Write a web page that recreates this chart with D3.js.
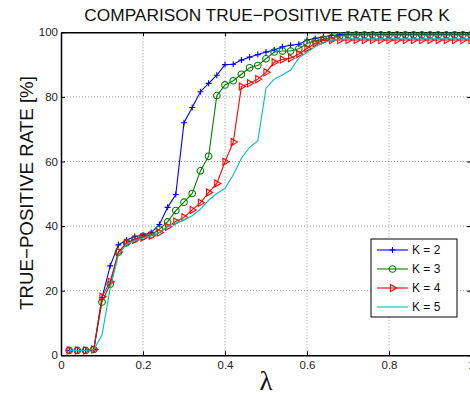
<!DOCTYPE html>
<html lang="en">
<head>
<meta charset="UTF-8" />
<title>Comparison true-positive rate for K</title>
<script src="https://d3js.org/d3.v7.min.js"></script>
<style>
    body { margin: 0; background: #fff; }
    svg { display: block; font-family: "Liberation Sans", Arial, sans-serif; }
    .tick text { font-size: 11.5px; fill: #222; }
</style>
</head>
<body>
<svg id="chart" width="470" height="396"></svg>
<script>
    // lambda values 0.02 .. 1.00
    const lambdas = d3.range(1, 51).map(i => +(i * 0.02).toFixed(2));

    const seriesNames = ["K = 2", "K = 3", "K = 4", "K = 5"];
    const seriesColors = ["#0000ff", "#008000", "#ff0000", "#00bfbf"];
    const seriesMarkers = ["plus", "circle", "triangle", "none"];

    const tprK2 = [1.5, 1.5, 1.5, 1.8, 17.8, 27.7, 34.2, 35.7, 36.8, 37.2,
        38.0, 40.5, 45.8, 49.8, 72.0, 76.7, 81.6, 84.2, 86.7, 90.0,
        90.1, 91.4, 92.3, 93.1, 93.9, 94.5, 95.5, 96.0, 96.3, 97.6,
        98.1, 98.6, 99.0, 99.2, 99.3, 99.3, 99.3, 99.3, 99.3, 99.3,
        99.3, 99.3, 99.3, 99.3, 99.3, 99.3, 99.3, 99.3, 99.3, 99.3];
    const tprK3 = [1.5, 1.5, 1.5, 1.8, 16.5, 22.0, 31.9, 34.8, 36.0, 36.8,
        37.3, 39.0, 41.3, 44.8, 47.4, 50.1, 57.1, 61.6, 80.4, 83.7,
        85.0, 87.0, 89.0, 89.7, 91.8, 93.9, 94.2, 94.2, 94.9, 96.5,
        97.4, 97.8, 98.3, 98.9, 99.2, 99.2, 99.2, 99.2, 99.2, 99.2,
        99.2, 99.2, 99.2, 99.2, 99.2, 99.2, 99.2, 99.2, 99.2, 99.2];
    const tprK4 = [1.5, 1.5, 1.5, 1.8, 18.1, 22.8, 32.0, 34.8, 35.8, 36.5,
        37.0, 38.0, 39.8, 41.4, 42.7, 45.0, 47.2, 50.4, 53.2, 59.9,
        66.0, 83.2, 84.2, 85.5, 87.6, 90.7, 91.6, 92.0, 93.3, 95.0,
        96.6, 97.5, 97.6, 97.6, 97.6, 97.6, 97.6, 97.6, 97.6, 97.6,
        97.6, 97.6, 97.6, 97.6, 97.6, 97.6, 97.6, 97.6, 97.6, 97.6];
    const tprK5 = [1.5, 1.5, 1.5, 1.8, 6.3, 20.7, 31.0, 34.5, 35.5, 36.3,
        37.0, 38.0, 40.0, 40.9, 41.9, 43.2, 45.2, 48.0, 50.1, 51.7,
        55.8, 61.0, 64.4, 66.4, 82.7, 85.5, 86.8, 88.3, 92.0, 93.8,
        95.5, 96.8, 97.5, 97.8, 98.0, 98.0, 98.0, 98.0, 98.0, 98.0,
        98.0, 98.0, 98.0, 98.0, 98.0, 98.0, 98.0, 98.0, 98.0, 98.0];
    const seriesValues = [tprK2, tprK3, tprK4, tprK5];

    const xTicks = [0, 0.2, 0.4, 0.6, 0.8, 1];
    const yTicks = [0, 20, 40, 60, 80, 100];

    const plotLeft = 61, plotRight = 471, plotTop = 32.3, plotBottom = 355.3;

    const svg = d3.select("#chart");
    const x = d3.scaleLinear().domain([0, 1]).range([plotLeft, plotRight]);
    const y = d3.scaleLinear().domain([0, 100]).range([plotBottom, plotTop]);

    // grid
    const grid = svg.append("g");
    grid.selectAll(".gx").data(xTicks.slice(1, -1)).join("line")
        .attr("x1", d => x(d)).attr("x2", d => x(d))
        .attr("y1", plotTop).attr("y2", plotBottom)
        .attr("stroke", "#999").attr("stroke-width", 1).attr("stroke-dasharray", "1,2");
    grid.selectAll(".gy").data(yTicks.slice(1, -1)).join("line")
        .attr("x1", plotLeft).attr("x2", plotRight)
        .attr("y1", d => y(d)).attr("y2", d => y(d))
        .attr("stroke", "#999").attr("stroke-width", 1).attr("stroke-dasharray", "1,2");

    // axes (MATLAB style, ticks inside, box on)
    svg.append("g").attr("transform", `translate(0,${plotBottom})`)
        .call(d3.axisBottom(x).tickValues(xTicks).tickFormat(d3.format("~g"))
            .tickSizeInner(-4).tickSizeOuter(0).tickPadding(6));
    svg.append("g").attr("transform", `translate(${plotLeft},0)`)
        .call(d3.axisLeft(y).tickValues(yTicks).tickSizeInner(-4).tickSizeOuter(0).tickPadding(3));
    svg.append("g").attr("transform", `translate(0,${plotTop})`)
        .call(d3.axisTop(x).tickValues(xTicks).tickFormat("").tickSizeInner(-4).tickSizeOuter(0));
    svg.append("g").attr("transform", `translate(${plotRight},0)`)
        .call(d3.axisRight(y).tickValues(yTicks).tickFormat("").tickSizeInner(-4).tickSizeOuter(0));
    svg.selectAll(".domain").attr("stroke", "#000").attr("stroke-width", 1.5);
    svg.selectAll(".tick line").attr("stroke", "#000");

    // series
    const line = d3.line().x((d, i) => x(lambdas[i])).y(d => y(d));
    const tri = d3.symbol().type(d3.symbolTriangle).size(22);

    function drawMarker(g, kind, color) {
        if (kind === "plus") {
            g.append("path").attr("d", "M-3,0H3M0,-3V3")
                .attr("stroke", color).attr("stroke-width", 1.1).attr("fill", "none");
        } else if (kind === "circle") {
            g.append("circle").attr("r", 3.3)
                .attr("stroke", color).attr("stroke-width", 1.1).attr("fill", "none");
        } else if (kind === "triangle") {
            g.append("path").attr("d", tri()).attr("transform", "rotate(90)")
                .attr("stroke", color).attr("stroke-width", 1.1).attr("fill", "none");
        }
    }

    const plot = svg.append("g");
    seriesValues.forEach((vals, s) => {
        plot.append("path").datum(vals).attr("d", line)
            .attr("fill", "none").attr("stroke", seriesColors[s]).attr("stroke-width", 1.1);
        if (seriesMarkers[s] !== "none") {
            vals.forEach((v, i) => {
                const g = plot.append("g").attr("transform", `translate(${x(lambdas[i])},${y(v)})`);
                drawMarker(g, seriesMarkers[s], seriesColors[s]);
            });
        }
    });

    // title and labels
    svg.append("text").attr("x", 267).attr("y", 21).attr("text-anchor", "middle")
        .attr("font-size", 17.3).attr("fill", "#111").text("COMPARISON TRUE\u2212POSITIVE RATE FOR K");
    svg.append("text").attr("transform", "translate(33,193) rotate(-90)").attr("text-anchor", "middle")
        .attr("font-size", 18.7).attr("fill", "#111").text("TRUE\u2212POSITIVE RATE [%]");
    svg.append("text").attr("x", 266).attr("y", 389.5).attr("text-anchor", "middle")
        .attr("font-family", "'Liberation Serif', 'DejaVu Serif', serif")
        .attr("font-size", 27).attr("fill", "#111").text("\u03bb");

    // legend
    const legend = svg.append("g");
    legend.append("rect").attr("x", 371).attr("y", 239).attr("width", 86).attr("height", 78)
        .attr("fill", "#fff").attr("stroke", "#000").attr("stroke-width", 1);
    seriesNames.forEach((name, s) => {
        const ly = 250 + s * 19;
        legend.append("line").attr("x1", 377).attr("x2", 408).attr("y1", ly).attr("y2", ly)
            .attr("stroke", seriesColors[s]).attr("stroke-width", 1.1);
        const g = legend.append("g").attr("transform", `translate(392.5,${ly})`);
        drawMarker(g, seriesMarkers[s], seriesColors[s]);
        legend.append("text").attr("x", 412).attr("y", ly + 4.3)
            .attr("font-size", 12).attr("fill", "#111").text(name);
    });
</script>
</body>
</html>
